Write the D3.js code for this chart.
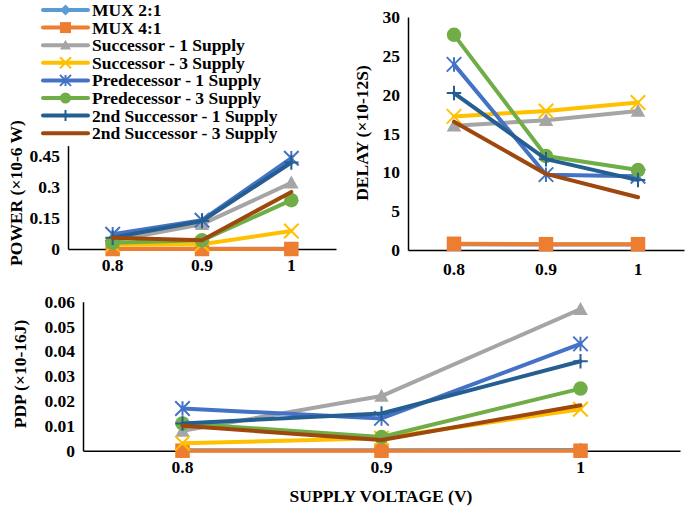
<!DOCTYPE html>
<html><head><meta charset="utf-8">
<script src="https://cdn.jsdelivr.net/npm/d3@7"></script>
<style>body{margin:0;background:#fff}svg{display:block}text{font-family:"Liberation Serif","Times New Roman",serif;font-weight:bold;fill:#000}</style>
</head><body>
<script>
const categories = ["0.8", "0.9", "1"];
const seriesNames = ["MUX 2:1", "MUX 4:1", "Successor - 1 Supply", "Successor - 3 Supply",
  "Predecessor - 1 Supply", "Predecessor - 3 Supply", "2nd Successor - 1 Supply", "2nd Successor - 3 Supply"];
const seriesColors = ["#5B9BD5", "#ED7D31", "#A5A5A5", "#FFC000", "#4472C4", "#70AD47", "#255E91", "#9E480E"];
const seriesMarkers = ["diamond", "square", "triangle", "x", "star", "circle", "plus", "none"];

const powerValues = [
  [0.001, 0.001, 0.001],
  [0.0, 0.0, 0.0],
  [0.04, 0.12, 0.32],
  [0.02, 0.023, 0.087],
  [0.071, 0.139, 0.439],
  [0.03, 0.042, 0.236],
  [0.055, 0.135, 0.418],
  [0.055, 0.042, 0.276]
];
const powerTicks = [0, 0.15, 0.3, 0.45];

const delayValues = [
  [0.75, 0.7, 0.7],
  [0.8, 0.75, 0.75],
  [16.0, 16.7, 17.9],
  [17.2, 17.9, 19.0],
  [23.9, 9.7, 9.5],
  [27.7, 12.1, 10.3],
  [20.2, 11.7, 9.0],
  [16.5, 9.8, 6.8]
];
const delayTicks = [0, 5, 10, 15, 20, 25, 30];

const pdpValues = [
  [0.0002, 0.0002, 0.0003],
  [0.0, 0.0, 0.0],
  [0.008, 0.022, 0.057],
  [0.003, 0.005, 0.0167],
  [0.017, 0.013, 0.043],
  [0.011, 0.0055, 0.025],
  [0.011, 0.015, 0.036],
  [0.010, 0.0043, 0.0183]
];
const pdpTicks = [0, 0.01, 0.02, 0.03, 0.04, 0.05, 0.06];

const W = 685, H = 509;
const FS = "17.5px";
const svg = d3.select("body").append("svg").attr("width", W).attr("height", H);

function markerPath(type, s) {
  const h = s / 2;
  switch (type) {
    case "diamond": return `M0,${-h}L${h},0L0,${h}L${-h},0Z`;
    case "square": return `M${-h},${-h}H${h}V${h}H${-h}Z`;
    case "triangle": return `M0,${-h}L${h},${h * 0.8}L${-h},${h * 0.8}Z`;
    case "x": return `M${-h},${-h}L${h},${h}M${-h},${h}L${h},${-h}`;
    case "star": return `M${-h},${-h}L${h},${h}M${-h},${h}L${h},${-h}M0,${-h}V${h}`;
    case "plus": return `M${-h},0H${h}M0,${-h}V${h}`;
    default: return "";
  }
}
function drawMarker(g, type, color, x, y, s) {
  if (type === "none") return;
  if (type === "circle") {
    g.append("circle").attr("cx", x).attr("cy", y).attr("r", s / 2).attr("fill", color);
    return;
  }
  const filled = ["diamond", "square", "triangle"].includes(type);
  g.append("path").attr("d", markerPath(type, s)).attr("transform", `translate(${x},${y})`)
    .attr("fill", filled ? color : "none").attr("stroke", filled ? "none" : color)
    .attr("stroke-width", filled ? 0 : 2);
}

function panel(opts) {
  const { left, right, top, bottom, max, ticks, values, tickFmt, title, titleX, titleY } = opts;
  const x = d3.scaleBand().domain(categories).range([left, right]).padding(0);
  const y = d3.scaleLinear().domain([0, max]).range([bottom, top]);
  const g = svg.append("g");
  const ya = g.append("g").attr("transform", `translate(${left},0)`)
    .call(d3.axisLeft(y).tickValues(ticks).tickSize(0).tickPadding(8).tickFormat(tickFmt));
  ya.select(".domain").attr("stroke", "#000").attr("stroke-width", 1.5);
  ya.selectAll("text").style("font-size", FS).style("font-family", "Liberation Serif").style("font-weight", "bold").attr("fill", "#000");
  const xa = g.append("g").attr("transform", `translate(0,${bottom})`)
    .call(d3.axisBottom(x).tickSize(0).tickPadding(opts.xPad));
  xa.select(".domain").attr("stroke", "#000").attr("stroke-width", 1.5);
  xa.selectAll("text").style("font-size", FS).style("font-family", "Liberation Serif").style("font-weight", "bold").attr("fill", "#000");
  g.append("text").attr("transform", `translate(${titleX},${titleY}) rotate(-90)`)
    .attr("text-anchor", "middle").attr("dominant-baseline", "central").style("font-size", FS).text(title);
  const line = d3.line().x((d, i) => x(categories[i]) + x.bandwidth() / 2).y(d => y(d));
  values.forEach((vals, si) => {
    const sg = g.append("g");
    sg.append("path").datum(vals).attr("d", line).attr("fill", "none")
      .attr("stroke", seriesColors[si]).attr("stroke-width", 4).attr("stroke-linejoin", "round").attr("stroke-linecap", "round");
    vals.forEach((v, i) => drawMarker(sg, seriesMarkers[si], seriesColors[si], x(categories[i]) + x.bandwidth() / 2, y(v), 14.5));
  });
}

panel({ left: 68, right: 336, top: 145.6, bottom: 249, max: 0.5, ticks: powerTicks, values: powerValues,
  tickFmt: d => d === 0 ? "0" : String(d), title: "POWER (×10-6 W)", titleX: 16, titleY: 193, xPad: 10 });
panel({ left: 408, right: 684, top: 17, bottom: 250, max: 30, ticks: delayTicks, values: delayValues,
  tickFmt: d => String(d), title: "DELAY (×10-12S)", titleX: 362, titleY: 133, xPad: 13 });
panel({ left: 83, right: 680, top: 301.7, bottom: 450.7, max: 0.06, ticks: pdpTicks, values: pdpValues,
  tickFmt: d => d === 0 ? "0" : d3.format(".2f")(d), title: "PDP (×10-16J)", titleX: 20, titleY: 374, xPad: 10 });

svg.append("text").attr("x", 381).attr("y", 502).attr("text-anchor", "middle").style("font-size", FS)
  .text("SUPPLY VOLTAGE (V)");

// legend
const lg = svg.append("g");
seriesNames.forEach((name, i) => {
  const cy = 10 + i * 17.6;
  lg.append("line").attr("x1", 43).attr("x2", 88).attr("y1", cy).attr("y2", cy)
    .attr("stroke", seriesColors[i]).attr("stroke-width", 4).attr("stroke-linecap", "round");
  drawMarker(lg, seriesMarkers[i], seriesColors[i], 65.5, cy, 11);
  lg.append("text").attr("x", 92).attr("y", cy).attr("dominant-baseline", "central").style("font-size", FS).text(name);
});
</script>
</body></html>
